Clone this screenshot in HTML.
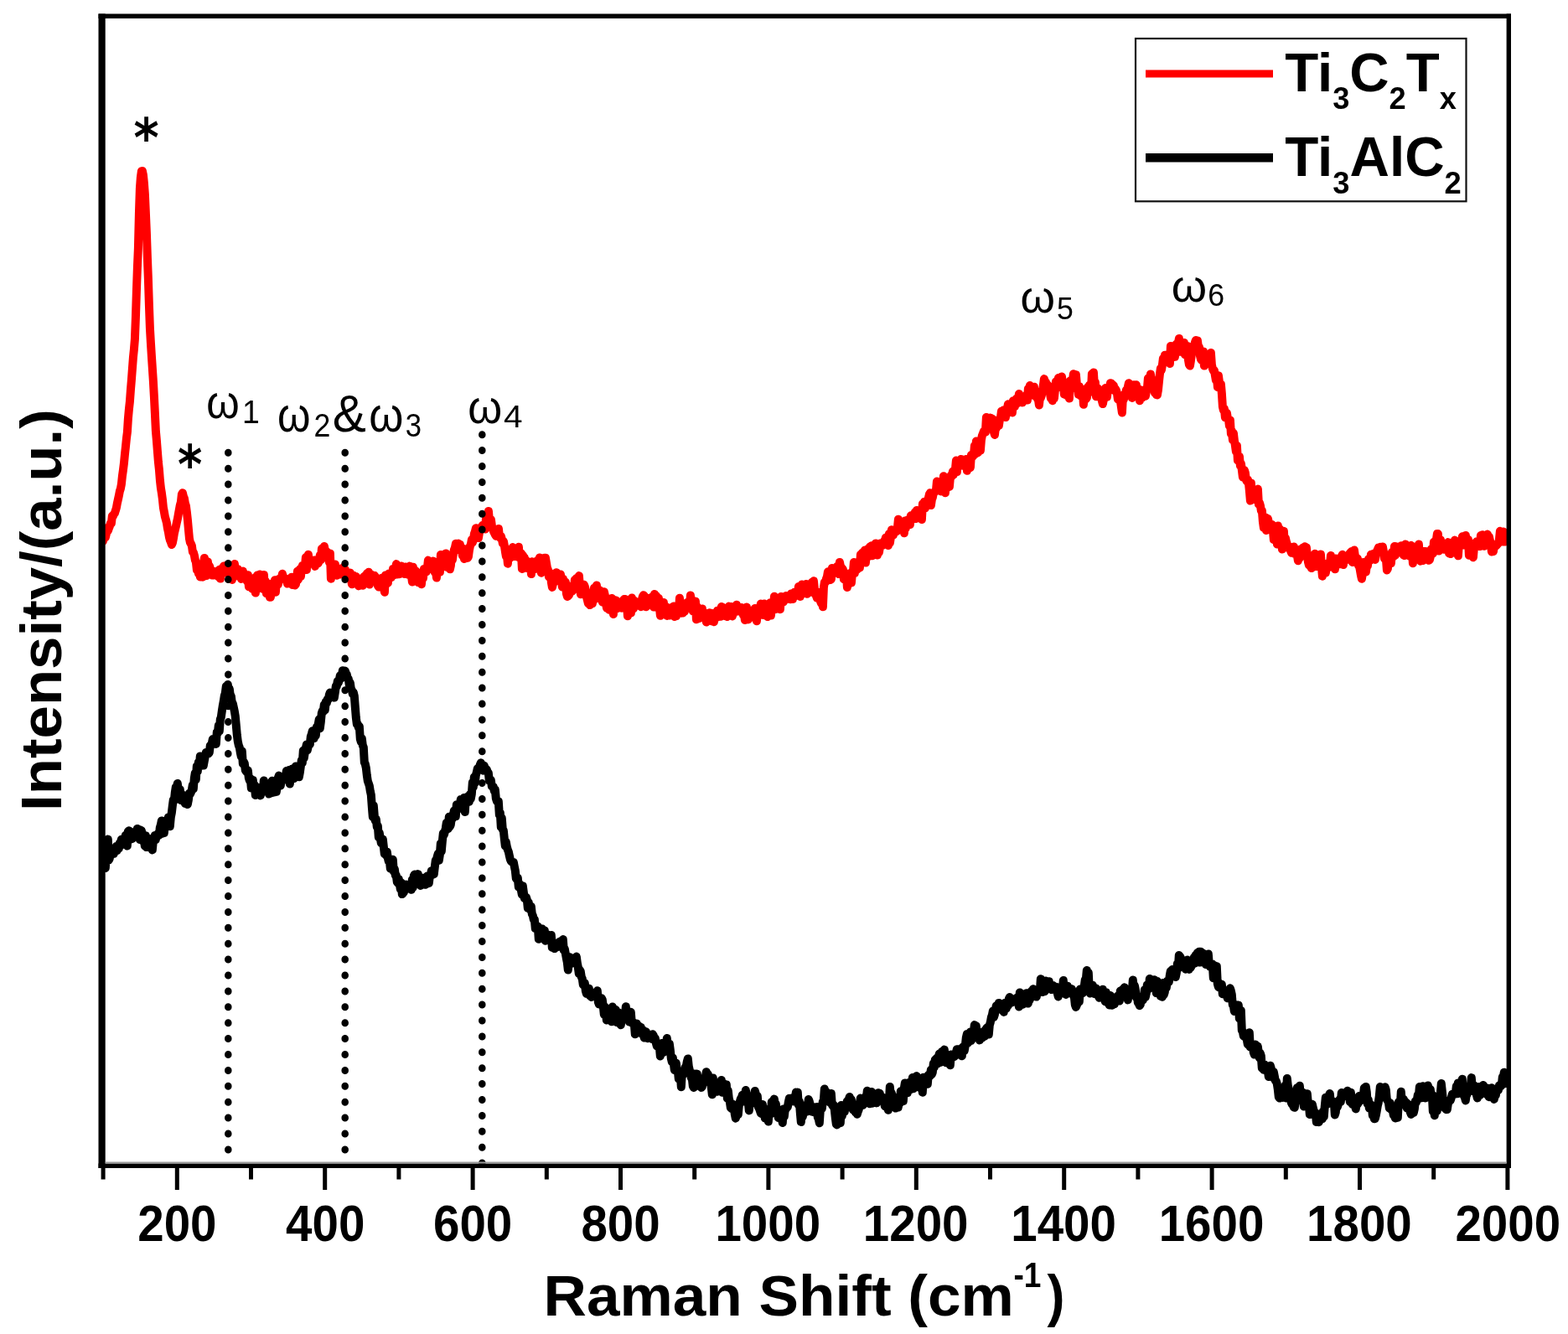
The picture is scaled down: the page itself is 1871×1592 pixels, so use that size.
<!DOCTYPE html><html><head><meta charset="utf-8"><title>Raman spectra</title><style>html,body{margin:0;padding:0;background:#fff;}svg{display:block;}</style></head><body>
<svg width="1871" height="1592" viewBox="0 0 1871 1592">
<rect width="1871" height="1592" fill="#fff"/>
<defs><clipPath id="pc"><rect x="122" y="20" width="1677" height="1368"/></clipPath></defs>
<g clip-path="url(#pc)" fill="none" stroke-linejoin="round" stroke-linecap="round">
<path d="M121.9 644.7L122.9 646.0L123.9 642.3L124.9 632.3L125.9 641.1L126.9 636.8L127.9 630.0L128.9 633.5L129.9 630.4L130.9 628.0L131.9 624.4L132.9 624.4L133.9 615.6L134.9 615.9L135.9 613.6L136.9 612.4L137.9 609.3L138.9 605.9L139.9 600.3L140.9 596.0L141.9 591.4L142.9 586.1L143.9 583.1L144.9 577.8L145.9 568.3L146.9 561.2L147.9 553.2L148.9 542.8L149.9 533.5L150.9 523.4L151.9 515.6L152.9 499.6L153.9 488.5L154.9 479.4L155.9 465.7L156.9 453.7L157.9 440.2L158.9 426.8L159.9 417.0L160.9 404.9L161.9 379.2L162.9 347.7L163.9 319.3L164.9 296.1L165.9 255.6L166.9 224.8L167.9 211.4L168.9 204.3L169.9 204.0L170.9 208.7L171.9 218.6L172.9 232.2L173.9 254.7L174.9 278.2L175.9 307.3L176.9 333.2L177.9 364.1L178.9 391.4L179.9 408.9L180.9 424.9L181.9 440.2L182.9 455.3L183.9 473.5L184.9 493.5L185.9 514.4L186.9 525.7L187.9 538.6L188.9 551.3L189.9 560.4L190.9 573.1L191.9 582.3L192.9 588.4L193.9 595.8L194.9 605.7L195.9 611.0L196.9 616.7L197.9 620.2L198.9 623.8L199.9 630.4L200.9 635.0L201.9 640.9L202.9 644.7L203.9 646.9L204.9 650.1L205.9 647.8L206.9 642.8L207.9 636.4L208.9 632.4L209.9 628.2L210.9 623.4L211.9 619.1L212.9 613.3L213.9 607.8L214.9 602.5L215.9 599.0L216.9 589.8L217.9 588.2L218.9 592.4L219.9 594.7L220.9 600.8L221.9 603.6L222.9 611.3L223.9 620.3L224.9 631.5L225.9 642.4L226.9 647.4L227.9 649.0L228.9 651.4L229.9 658.6L230.9 659.5L231.9 662.9L232.9 668.5L233.9 671.0L234.9 680.2L235.9 680.3L236.9 684.4L237.9 684.3L238.9 688.5L239.9 679.5L240.9 686.2L241.9 688.7L242.9 672.1L243.9 665.9L244.9 679.3L245.9 687.1L246.9 670.0L247.9 670.3L248.9 680.8L249.9 675.3L250.9 678.4L251.9 680.7L252.9 686.5L253.9 682.7L254.9 686.5L255.9 684.8L256.9 682.1L257.9 685.2L258.9 682.6L259.9 687.8L260.9 681.0L261.9 679.6L262.9 690.6L263.9 681.7L264.9 680.3L265.9 681.5L266.9 675.5L267.9 676.9L268.9 680.8L269.9 680.7L270.9 674.3L271.9 684.8L272.9 678.5L273.9 676.8L274.9 678.3L275.9 681.4L276.9 692.0L277.9 678.3L278.9 684.6L279.9 673.0L280.9 683.1L281.9 687.2L282.9 681.3L283.9 679.1L284.9 682.9L285.9 684.9L286.9 684.4L287.9 690.9L288.9 683.9L289.9 681.6L290.9 685.6L291.9 687.5L292.9 690.1L293.9 691.0L294.9 693.7L295.9 686.3L296.9 700.2L297.9 695.0L298.9 691.7L299.9 699.9L300.9 702.6L301.9 697.9L302.9 695.6L303.9 689.6L304.9 707.6L305.9 697.1L306.9 686.6L307.9 687.7L308.9 692.2L309.9 685.4L310.9 695.1L311.9 693.2L312.9 702.7L313.9 702.6L314.9 685.9L315.9 700.6L316.9 693.7L317.9 708.3L318.9 704.9L319.9 708.0L320.9 699.4L321.9 712.7L322.9 712.8L323.9 696.8L324.9 702.9L325.9 696.9L326.9 699.2L327.9 692.3L328.9 706.7L329.9 692.0L330.9 694.4L331.9 697.4L332.9 690.9L333.9 692.0L334.9 689.6L335.9 690.8L336.9 684.8L337.9 688.6L338.9 690.2L339.9 690.0L340.9 692.3L341.9 691.0L342.9 696.6L343.9 691.7L344.9 693.1L345.9 690.9L346.9 692.0L347.9 688.8L348.9 698.0L349.9 690.3L350.9 692.6L351.9 698.5L352.9 697.3L353.9 691.5L354.9 681.7L355.9 691.8L356.9 689.1L357.9 679.1L358.9 687.9L359.9 678.8L360.9 674.9L361.9 679.0L362.9 675.8L363.9 675.8L364.9 665.0L365.9 679.9L366.9 666.2L367.9 661.8L368.9 672.8L369.9 668.4L370.9 672.2L371.9 669.3L372.9 671.1L373.9 673.0L374.9 668.5L375.9 675.9L376.9 670.7L377.9 668.7L378.9 671.8L379.9 672.0L380.9 667.1L381.9 662.4L382.9 668.0L383.9 654.8L384.9 656.7L385.9 660.4L386.9 651.9L387.9 657.1L388.9 657.4L389.9 665.1L390.9 659.2L391.9 663.6L392.9 671.2L393.9 660.5L394.9 690.7L395.9 675.1L396.9 677.9L397.9 686.2L398.9 681.9L399.9 673.5L400.9 685.4L401.9 686.7L402.9 680.5L403.9 681.4L404.9 685.3L405.9 678.7L406.9 685.4L407.9 684.4L408.9 680.2L409.9 676.9L410.9 682.7L411.9 679.7L412.9 689.5L413.9 685.8L414.9 689.5L415.9 686.9L416.9 688.1L417.9 683.6L418.9 691.2L419.9 697.3L420.9 687.6L421.9 686.8L422.9 689.5L423.9 688.4L424.9 687.9L425.9 692.6L426.9 691.1L427.9 699.4L428.9 692.3L429.9 693.7L430.9 696.7L431.9 690.4L432.9 698.8L433.9 688.5L434.9 687.6L435.9 689.6L436.9 690.7L437.9 684.3L438.9 690.9L439.9 682.7L440.9 697.6L441.9 690.3L442.9 687.4L443.9 686.0L444.9 689.0L445.9 690.4L446.9 686.9L447.9 688.1L448.9 692.3L449.9 691.2L450.9 699.0L451.9 700.5L452.9 695.6L453.9 698.4L454.9 690.1L455.9 700.3L456.9 697.6L457.9 700.7L458.9 706.8L459.9 686.4L460.9 697.2L461.9 688.9L462.9 695.6L463.9 684.6L464.9 687.0L465.9 688.8L466.9 689.2L467.9 684.9L468.9 679.1L469.9 679.1L470.9 686.0L471.9 681.5L472.9 673.1L473.9 685.4L474.9 683.2L475.9 685.3L476.9 679.3L477.9 684.8L478.9 675.5L479.9 683.3L480.9 678.0L481.9 683.6L482.9 685.1L483.9 676.4L484.9 679.7L485.9 680.0L486.9 685.7L487.9 684.2L488.9 675.6L489.9 684.7L490.9 686.9L491.9 694.5L492.9 676.8L493.9 683.2L494.9 693.2L495.9 680.9L496.9 682.5L497.9 691.8L498.9 695.1L499.9 687.7L500.9 694.5L501.9 692.6L502.9 697.3L503.9 687.7L504.9 690.3L505.9 678.9L506.9 680.2L507.9 678.4L508.9 682.3L509.9 677.3L510.9 668.6L511.9 673.4L512.9 673.8L513.9 671.4L514.9 672.7L515.9 675.0L516.9 669.6L517.9 680.9L518.9 683.1L519.9 679.7L520.9 689.5L521.9 676.4L522.9 677.0L523.9 674.1L524.9 682.8L525.9 661.9L526.9 669.1L527.9 670.1L528.9 668.8L529.9 674.3L530.9 665.1L531.9 660.4L532.9 676.8L533.9 668.7L534.9 674.5L535.9 671.8L536.9 679.3L537.9 674.9L538.9 663.6L539.9 668.1L540.9 660.8L541.9 656.0L542.9 653.5L543.9 648.7L544.9 651.1L545.9 650.7L546.9 648.6L547.9 656.4L548.9 649.7L549.9 655.2L550.9 657.0L551.9 663.3L552.9 654.8L553.9 666.9L554.9 660.4L555.9 659.7L556.9 658.5L557.9 665.9L558.9 664.4L559.9 656.8L560.9 651.7L561.9 649.5L562.9 643.9L563.9 647.5L564.9 643.9L565.9 636.9L566.9 634.2L567.9 630.2L568.9 632.3L569.9 636.2L570.9 642.1L571.9 635.9L572.9 629.9L573.9 631.2L574.9 628.5L575.9 626.8L576.9 628.3L577.9 626.9L578.9 631.6L579.9 619.6L580.9 622.7L581.9 621.5L582.9 609.9L583.9 621.0L584.9 621.1L585.9 620.0L586.9 627.7L587.9 630.9L588.9 634.1L589.9 636.2L590.9 638.1L591.9 639.8L592.9 633.5L593.9 638.1L594.9 630.9L595.9 639.9L596.9 641.9L597.9 639.9L598.9 643.8L599.9 648.7L600.9 645.9L601.9 651.3L602.9 658.3L603.9 664.1L604.9 662.3L605.9 672.7L606.9 659.5L607.9 664.7L608.9 665.8L609.9 658.7L610.9 655.1L611.9 653.1L612.9 659.5L613.9 664.0L614.9 659.7L615.9 660.3L616.9 658.8L617.9 664.7L618.9 652.7L619.9 665.6L620.9 665.9L621.9 660.3L622.9 678.9L623.9 662.6L624.9 665.1L625.9 665.5L626.9 677.8L627.9 669.0L628.9 677.7L629.9 678.3L630.9 677.7L631.9 671.0L632.9 674.3L633.9 685.1L634.9 670.2L635.9 672.1L636.9 675.0L637.9 679.4L638.9 676.3L639.9 678.3L640.9 669.1L641.9 678.6L642.9 676.3L643.9 665.4L644.9 680.4L645.9 683.7L646.9 668.3L647.9 672.0L648.9 678.2L649.9 665.7L650.9 665.7L651.9 671.5L652.9 677.6L653.9 680.0L654.9 688.3L655.9 689.1L656.9 684.2L657.9 695.2L658.9 700.9L659.9 696.8L660.9 695.0L661.9 689.5L662.9 693.5L663.9 683.2L664.9 690.8L665.9 686.0L666.9 692.7L667.9 691.3L668.9 685.5L669.9 693.3L670.9 700.5L671.9 690.8L672.9 695.5L673.9 696.3L674.9 694.6L675.9 708.4L676.9 712.0L677.9 711.3L678.9 710.4L679.9 707.6L680.9 706.8L681.9 699.8L682.9 705.5L683.9 704.0L684.9 701.2L685.9 691.8L686.9 692.6L687.9 690.0L688.9 701.4L689.9 695.4L690.9 687.1L691.9 700.1L692.9 709.3L693.9 705.2L694.9 708.0L695.9 705.8L696.9 697.8L697.9 700.4L698.9 705.0L699.9 712.4L700.9 716.4L701.9 720.1L702.9 716.2L703.9 722.1L704.9 715.6L705.9 713.0L706.9 720.2L707.9 711.0L708.9 701.7L709.9 709.4L710.9 714.6L711.9 698.5L712.9 711.4L713.9 711.1L714.9 705.2L715.9 704.5L716.9 709.0L717.9 709.1L718.9 718.7L719.9 715.1L720.9 706.3L721.9 710.6L722.9 719.0L723.9 725.6L724.9 718.9L725.9 719.3L726.9 727.7L727.9 719.2L728.9 718.5L729.9 713.9L730.9 719.0L731.9 733.0L732.9 716.1L733.9 723.8L734.9 716.5L735.9 723.1L736.9 726.0L737.9 719.6L738.9 723.5L739.9 722.6L740.9 720.3L741.9 725.7L742.9 720.4L743.9 716.0L744.9 715.0L745.9 715.1L746.9 722.4L747.9 719.4L748.9 735.3L749.9 731.8L750.9 722.6L751.9 722.1L752.9 731.5L753.9 713.5L754.9 720.0L755.9 726.3L756.9 716.7L757.9 718.3L758.9 718.4L759.9 722.9L760.9 719.8L761.9 720.6L762.9 721.6L763.9 718.9L764.9 724.2L765.9 715.3L766.9 711.8L767.9 710.2L768.9 711.1L769.9 716.4L770.9 724.2L771.9 720.0L772.9 716.3L773.9 714.0L774.9 716.7L775.9 717.4L776.9 716.7L777.9 712.5L778.9 717.2L779.9 724.6L780.9 709.0L781.9 719.2L782.9 710.9L783.9 723.1L784.9 719.4L785.9 713.8L786.9 725.4L787.9 734.8L788.9 727.3L789.9 733.4L790.9 728.3L791.9 719.0L792.9 732.9L793.9 729.4L794.9 724.1L795.9 734.9L796.9 732.2L797.9 727.9L798.9 734.5L799.9 725.7L800.9 732.9L801.9 724.8L802.9 731.8L803.9 723.5L804.9 736.0L805.9 729.7L806.9 735.2L807.9 723.9L808.9 725.3L809.9 731.5L810.9 713.7L811.9 721.6L812.9 731.7L813.9 728.9L814.9 731.5L815.9 725.3L816.9 729.7L817.9 723.5L818.9 720.4L819.9 719.0L820.9 724.7L821.9 724.8L822.9 724.6L823.9 710.4L824.9 718.1L825.9 725.4L826.9 729.5L827.9 725.4L828.9 724.2L829.9 717.6L830.9 739.2L831.9 724.3L832.9 738.4L833.9 738.2L834.9 732.3L835.9 728.5L836.9 732.4L837.9 726.5L838.9 733.8L839.9 732.9L840.9 735.9L841.9 738.4L842.9 742.6L843.9 732.6L844.9 740.0L845.9 731.4L846.9 731.3L847.9 733.1L848.9 731.7L849.9 741.5L850.9 740.8L851.9 742.2L852.9 735.4L853.9 736.5L854.9 732.0L855.9 728.8L856.9 736.3L857.9 735.0L858.9 727.9L859.9 735.8L860.9 724.0L861.9 731.3L862.9 728.7L863.9 728.9L864.9 725.8L865.9 735.4L866.9 733.1L867.9 736.1L868.9 730.8L869.9 723.6L870.9 728.0L871.9 723.9L872.9 731.8L873.9 735.4L874.9 730.9L875.9 726.3L876.9 727.3L877.9 730.0L878.9 721.7L879.9 729.4L880.9 729.6L881.9 725.8L882.9 726.3L883.9 729.1L884.9 725.0L885.9 725.7L886.9 734.2L887.9 732.2L888.9 740.1L889.9 727.7L890.9 724.5L891.9 738.6L892.9 739.4L893.9 731.8L894.9 728.9L895.9 736.6L896.9 728.9L897.9 736.6L898.9 728.0L899.9 736.4L900.9 725.9L901.9 733.9L902.9 741.3L903.9 731.4L904.9 735.2L905.9 727.1L906.9 724.7L907.9 720.5L908.9 731.7L909.9 725.7L910.9 734.1L911.9 720.6L912.9 725.5L913.9 727.2L914.9 733.9L915.9 736.1L916.9 724.2L917.9 722.0L918.9 719.3L919.9 734.6L920.9 726.9L921.9 723.2L922.9 725.1L923.9 711.8L924.9 714.8L925.9 726.9L926.9 723.2L927.9 721.0L928.9 714.4L929.9 721.8L930.9 727.2L931.9 712.0L932.9 717.7L933.9 715.0L934.9 718.5L935.9 716.3L936.9 715.1L937.9 711.0L938.9 714.8L939.9 711.5L940.9 713.0L941.9 712.6L942.9 715.3L943.9 708.5L944.9 708.9L945.9 715.0L946.9 707.8L947.9 706.8L948.9 711.5L949.9 708.0L950.9 706.9L951.9 707.3L952.9 699.9L953.9 708.0L954.9 712.0L955.9 708.1L956.9 697.4L957.9 706.2L958.9 699.9L959.9 702.7L960.9 703.9L961.9 696.9L962.9 708.8L963.9 701.4L964.9 705.1L965.9 703.8L966.9 706.7L967.9 706.8L968.9 694.7L969.9 703.0L970.9 693.3L971.9 702.5L972.9 709.1L973.9 711.0L974.9 713.8L975.9 706.6L976.9 710.9L977.9 710.8L978.9 717.4L979.9 720.0L980.9 708.6L981.9 724.2L982.9 701.0L983.9 694.6L984.9 694.7L985.9 690.9L986.9 688.3L987.9 682.2L988.9 692.3L989.9 685.1L990.9 692.1L991.9 691.2L992.9 677.9L993.9 679.1L994.9 678.2L995.9 683.5L996.9 681.7L997.9 682.0L998.9 675.9L999.9 681.1L1000.9 685.1L1001.9 670.9L1002.9 675.6L1003.9 678.1L1004.9 678.1L1005.9 679.7L1006.9 691.2L1007.9 690.7L1008.9 690.5L1009.9 684.4L1010.9 701.0L1011.9 691.6L1012.9 685.8L1013.9 685.8L1014.9 683.9L1015.9 695.5L1016.9 684.9L1017.9 683.0L1018.9 671.0L1019.9 684.0L1020.9 674.0L1021.9 672.4L1022.9 679.5L1023.9 670.7L1024.9 677.5L1025.9 677.4L1026.9 661.7L1027.9 668.3L1028.9 659.7L1029.9 665.6L1030.9 668.9L1031.9 656.6L1032.9 671.5L1033.9 660.5L1034.9 655.5L1035.9 660.0L1036.9 663.9L1037.9 652.6L1038.9 658.7L1039.9 651.3L1040.9 663.2L1041.9 657.4L1042.9 653.9L1043.9 660.4L1044.9 648.4L1045.9 652.1L1046.9 662.6L1047.9 652.5L1048.9 659.3L1049.9 653.1L1050.9 648.2L1051.9 650.0L1052.9 651.1L1053.9 648.3L1054.9 645.8L1055.9 645.5L1056.9 641.6L1057.9 649.0L1058.9 649.9L1059.9 651.1L1060.9 637.1L1061.9 647.6L1062.9 641.3L1063.9 632.2L1064.9 637.4L1065.9 638.6L1066.9 634.9L1067.9 633.7L1068.9 634.5L1069.9 634.3L1070.9 629.7L1071.9 619.7L1072.9 626.2L1073.9 631.6L1074.9 627.5L1075.9 632.4L1076.9 632.3L1077.9 627.9L1078.9 636.2L1079.9 621.5L1080.9 630.2L1081.9 622.6L1082.9 620.4L1083.9 626.4L1084.9 619.8L1085.9 626.1L1086.9 615.3L1087.9 620.3L1088.9 615.2L1089.9 617.3L1090.9 615.7L1091.9 611.2L1092.9 619.0L1093.9 608.9L1094.9 609.3L1095.9 617.6L1096.9 617.1L1097.9 614.8L1098.9 612.2L1099.9 620.0L1100.9 601.2L1101.9 601.8L1102.9 598.8L1103.9 606.4L1104.9 601.7L1105.9 604.0L1106.9 601.6L1107.9 594.1L1108.9 589.9L1109.9 588.2L1110.9 603.1L1111.9 596.1L1112.9 593.4L1113.9 588.0L1114.9 587.9L1115.9 586.3L1116.9 585.6L1117.9 574.6L1118.9 585.2L1119.9 582.8L1120.9 585.3L1121.9 584.1L1122.9 586.5L1123.9 581.7L1124.9 585.2L1125.9 568.2L1126.9 574.9L1127.9 588.2L1128.9 573.3L1129.9 577.4L1130.9 581.7L1131.9 573.5L1132.9 580.8L1133.9 569.8L1134.9 566.9L1135.9 568.2L1136.9 562.6L1137.9 566.6L1138.9 561.1L1139.9 560.3L1140.9 549.6L1141.9 563.1L1142.9 549.9L1143.9 550.3L1144.9 552.9L1145.9 549.6L1146.9 547.9L1147.9 551.5L1148.9 555.7L1149.9 554.7L1150.9 556.2L1151.9 548.9L1152.9 548.0L1153.9 561.8L1154.9 551.0L1155.9 554.6L1156.9 556.0L1157.9 558.0L1158.9 543.0L1159.9 545.7L1160.9 544.4L1161.9 543.6L1162.9 531.7L1163.9 541.6L1164.9 526.4L1165.9 540.5L1166.9 540.2L1167.9 538.9L1168.9 528.6L1169.9 537.5L1170.9 525.0L1171.9 519.8L1172.9 517.4L1173.9 514.6L1174.9 516.1L1175.9 515.7L1176.9 497.9L1177.9 502.0L1178.9 508.1L1179.9 505.5L1180.9 507.7L1181.9 498.6L1182.9 511.4L1183.9 499.8L1184.9 509.1L1185.9 515.6L1186.9 518.9L1187.9 510.7L1188.9 511.0L1189.9 502.2L1190.9 501.3L1191.9 507.9L1192.9 500.7L1193.9 498.6L1194.9 490.8L1195.9 496.9L1196.9 497.9L1197.9 489.3L1198.9 489.2L1199.9 498.1L1200.9 490.4L1201.9 487.2L1202.9 482.3L1203.9 484.0L1204.9 484.9L1205.9 492.0L1206.9 481.5L1207.9 492.4L1208.9 478.3L1209.9 480.2L1210.9 485.3L1211.9 479.1L1212.9 475.6L1213.9 478.6L1214.9 481.0L1215.9 470.0L1216.9 476.8L1217.9 477.1L1218.9 475.2L1219.9 480.4L1220.9 473.6L1221.9 474.2L1222.9 475.8L1223.9 477.7L1224.9 471.0L1225.9 477.6L1226.9 463.7L1227.9 472.5L1228.9 460.0L1229.9 461.4L1230.9 462.0L1231.9 468.7L1232.9 465.6L1233.9 461.7L1234.9 472.6L1235.9 467.7L1236.9 467.4L1237.9 476.0L1238.9 476.7L1239.9 483.5L1240.9 474.5L1241.9 474.7L1242.9 471.6L1243.9 465.5L1244.9 459.7L1245.9 452.1L1246.9 457.0L1247.9 456.0L1248.9 460.4L1249.9 459.0L1250.9 463.5L1251.9 461.1L1252.9 469.4L1253.9 475.4L1254.9 474.9L1255.9 478.2L1256.9 472.9L1257.9 475.4L1258.9 465.2L1259.9 455.5L1260.9 463.1L1261.9 457.5L1262.9 451.0L1263.9 456.3L1264.9 451.9L1265.9 450.1L1266.9 449.4L1267.9 455.6L1268.9 459.6L1269.9 470.7L1270.9 462.3L1271.9 469.3L1272.9 472.1L1273.9 460.1L1274.9 458.9L1275.9 475.5L1276.9 454.5L1277.9 464.1L1278.9 455.4L1279.9 454.0L1280.9 446.2L1281.9 449.7L1282.9 456.2L1283.9 447.1L1284.9 459.2L1285.9 460.2L1286.9 471.0L1287.9 461.2L1288.9 472.1L1289.9 472.6L1290.9 469.3L1291.9 464.9L1292.9 482.8L1293.9 470.6L1294.9 472.2L1295.9 476.1L1296.9 474.5L1297.9 462.1L1298.9 463.3L1299.9 459.5L1300.9 463.8L1301.9 467.5L1302.9 446.1L1303.9 461.3L1304.9 444.4L1305.9 460.2L1306.9 456.4L1307.9 473.2L1308.9 465.9L1309.9 463.2L1310.9 466.0L1311.9 467.3L1312.9 472.7L1313.9 472.7L1314.9 478.4L1315.9 482.1L1316.9 476.8L1317.9 466.2L1318.9 463.1L1319.9 466.2L1320.9 473.9L1321.9 466.0L1322.9 463.2L1323.9 465.9L1324.9 457.2L1325.9 457.4L1326.9 464.3L1327.9 459.1L1328.9 460.3L1329.9 466.2L1330.9 464.0L1331.9 465.7L1332.9 469.1L1333.9 476.5L1334.9 476.0L1335.9 472.1L1336.9 478.6L1337.9 485.5L1338.9 492.5L1339.9 473.7L1340.9 476.9L1341.9 470.0L1342.9 471.3L1343.9 465.4L1344.9 466.4L1345.9 461.6L1346.9 457.2L1347.9 458.1L1348.9 463.6L1349.9 464.3L1350.9 475.0L1351.9 472.3L1352.9 459.2L1353.9 467.5L1354.9 460.1L1355.9 459.3L1356.9 471.9L1357.9 471.8L1358.9 464.5L1359.9 478.2L1360.9 465.8L1361.9 465.4L1362.9 474.8L1363.9 473.2L1364.9 471.9L1365.9 472.8L1366.9 472.7L1367.9 467.3L1368.9 463.5L1369.9 451.5L1370.9 450.6L1371.9 456.5L1372.9 446.4L1373.9 454.3L1374.9 459.5L1375.9 453.4L1376.9 458.3L1377.9 468.8L1378.9 463.8L1379.9 471.2L1380.9 471.4L1381.9 465.7L1382.9 455.7L1383.9 446.5L1384.9 439.5L1385.9 441.7L1386.9 435.9L1387.9 427.6L1388.9 431.7L1389.9 423.8L1390.9 431.3L1391.9 425.3L1392.9 424.1L1393.9 423.4L1394.9 422.1L1395.9 433.9L1396.9 413.0L1397.9 420.9L1398.9 425.3L1399.9 421.9L1400.9 416.2L1401.9 425.9L1402.9 411.8L1403.9 410.3L1404.9 419.2L1405.9 408.9L1406.9 404.0L1407.9 419.7L1408.9 418.8L1409.9 418.3L1410.9 412.0L1411.9 414.9L1412.9 409.0L1413.9 423.1L1414.9 421.1L1415.9 423.5L1416.9 413.0L1417.9 429.2L1418.9 435.2L1419.9 436.6L1420.9 430.6L1421.9 422.9L1422.9 417.4L1423.9 418.2L1424.9 413.3L1425.9 408.7L1426.9 405.9L1427.9 418.0L1428.9 406.4L1429.9 414.4L1430.9 414.0L1431.9 424.3L1432.9 428.6L1433.9 430.0L1434.9 430.0L1435.9 419.4L1436.9 436.5L1437.9 428.8L1438.9 425.8L1439.9 426.4L1440.9 424.6L1441.9 429.6L1442.9 431.0L1443.9 429.8L1444.9 421.0L1445.9 435.4L1446.9 439.9L1447.9 442.4L1448.9 442.0L1449.9 448.0L1450.9 453.8L1451.9 449.5L1452.9 462.0L1453.9 448.2L1454.9 455.7L1455.9 461.8L1456.9 458.6L1457.9 470.0L1458.9 485.4L1459.9 489.7L1460.9 487.7L1461.9 498.3L1462.9 493.7L1463.9 492.8L1464.9 499.1L1465.9 500.1L1466.9 508.4L1467.9 501.5L1468.9 517.8L1469.9 514.6L1470.9 525.1L1471.9 517.1L1472.9 525.9L1473.9 531.7L1474.9 539.0L1475.9 531.9L1476.9 549.4L1477.9 546.7L1478.9 544.5L1479.9 555.8L1480.9 553.1L1481.9 561.0L1482.9 569.5L1483.9 564.7L1484.9 561.1L1485.9 564.5L1486.9 572.7L1487.9 574.5L1488.9 572.3L1489.9 576.3L1490.9 586.1L1491.9 597.6L1492.9 576.5L1493.9 594.7L1494.9 590.3L1495.9 595.4L1496.9 596.1L1497.9 592.3L1498.9 587.3L1499.9 585.7L1500.9 583.6L1501.9 601.9L1502.9 599.9L1503.9 603.3L1504.9 609.7L1505.9 609.5L1506.9 622.6L1507.9 629.8L1508.9 629.9L1509.9 617.6L1510.9 633.0L1511.9 623.6L1512.9 618.9L1513.9 623.3L1514.9 625.6L1515.9 631.3L1516.9 627.2L1517.9 625.9L1518.9 633.0L1519.9 644.2L1520.9 631.8L1521.9 637.9L1522.9 636.4L1523.9 649.4L1524.9 627.5L1525.9 642.5L1526.9 631.3L1527.9 635.1L1528.9 637.9L1529.9 655.4L1530.9 637.7L1531.9 633.8L1532.9 651.0L1533.9 642.1L1534.9 646.6L1535.9 649.3L1536.9 651.5L1537.9 651.8L1538.9 655.5L1539.9 656.8L1540.9 659.7L1541.9 654.1L1542.9 653.2L1543.9 652.4L1544.9 661.2L1545.9 658.7L1546.9 662.3L1547.9 662.9L1548.9 669.2L1549.9 662.7L1550.9 665.8L1551.9 655.5L1552.9 655.4L1553.9 658.5L1554.9 653.4L1555.9 662.1L1556.9 652.3L1557.9 662.6L1558.9 653.5L1559.9 663.5L1560.9 670.6L1561.9 674.4L1562.9 668.6L1563.9 675.9L1564.9 678.1L1565.9 674.5L1566.9 666.1L1567.9 664.4L1568.9 660.8L1569.9 670.8L1570.9 676.0L1571.9 667.5L1572.9 662.9L1573.9 673.4L1574.9 677.0L1575.9 661.4L1576.9 676.6L1577.9 687.7L1578.9 682.3L1579.9 682.1L1580.9 681.5L1581.9 683.7L1582.9 672.9L1583.9 672.4L1584.9 677.5L1585.9 671.1L1586.9 674.8L1587.9 663.1L1588.9 675.2L1589.9 674.7L1590.9 670.6L1591.9 671.7L1592.9 679.3L1593.9 666.6L1594.9 667.9L1595.9 667.5L1596.9 671.3L1597.9 668.9L1598.9 673.3L1599.9 668.7L1600.9 663.5L1601.9 661.8L1602.9 674.0L1603.9 666.5L1604.9 664.5L1605.9 664.5L1606.9 663.7L1607.9 667.8L1608.9 666.9L1609.9 661.2L1610.9 660.1L1611.9 658.8L1612.9 658.0L1613.9 671.0L1614.9 660.7L1615.9 656.4L1616.9 663.4L1617.9 664.8L1618.9 671.4L1619.9 666.7L1620.9 674.8L1621.9 675.2L1622.9 680.7L1623.9 686.3L1624.9 690.8L1625.9 684.6L1626.9 670.9L1627.9 673.2L1628.9 675.0L1629.9 682.5L1630.9 674.3L1631.9 675.5L1632.9 667.3L1633.9 669.7L1634.9 668.9L1635.9 661.8L1636.9 667.0L1637.9 667.6L1638.9 660.7L1639.9 665.6L1640.9 667.9L1641.9 659.3L1642.9 658.1L1643.9 655.8L1644.9 653.4L1645.9 656.4L1646.9 652.8L1647.9 653.4L1648.9 653.7L1649.9 652.4L1650.9 657.9L1651.9 666.6L1652.9 661.7L1653.9 666.8L1654.9 680.5L1655.9 678.6L1656.9 667.4L1657.9 671.5L1658.9 663.2L1659.9 672.1L1660.9 659.0L1661.9 660.0L1662.9 664.1L1663.9 652.1L1664.9 662.6L1665.9 652.2L1666.9 657.4L1667.9 654.8L1668.9 655.8L1669.9 657.0L1670.9 655.8L1671.9 651.2L1672.9 660.4L1673.9 659.7L1674.9 662.5L1675.9 663.0L1676.9 649.6L1677.9 662.5L1678.9 662.6L1679.9 653.6L1680.9 661.3L1681.9 663.7L1682.9 654.4L1683.9 650.8L1684.9 656.3L1685.9 672.2L1686.9 660.2L1687.9 653.6L1688.9 658.8L1689.9 655.7L1690.9 659.1L1691.9 662.1L1692.9 649.5L1693.9 664.2L1694.9 669.7L1695.9 662.2L1696.9 661.6L1697.9 669.1L1698.9 657.9L1699.9 658.3L1700.9 657.9L1701.9 664.3L1702.9 667.3L1703.9 665.3L1704.9 668.8L1705.9 668.0L1706.9 664.0L1707.9 655.2L1708.9 655.5L1709.9 660.5L1710.9 646.8L1711.9 648.3L1712.9 645.1L1713.9 643.9L1714.9 637.1L1715.9 637.1L1716.9 657.5L1717.9 650.9L1718.9 644.1L1719.9 648.6L1720.9 653.5L1721.9 649.7L1722.9 655.7L1723.9 651.0L1724.9 653.5L1725.9 656.2L1726.9 655.6L1727.9 647.1L1728.9 660.2L1729.9 660.7L1730.9 661.1L1731.9 653.2L1732.9 659.1L1733.9 657.8L1734.9 647.4L1735.9 644.6L1736.9 657.1L1737.9 649.4L1738.9 658.3L1739.9 663.3L1740.9 649.0L1741.9 647.0L1742.9 648.8L1743.9 650.6L1744.9 640.3L1745.9 650.4L1746.9 647.7L1747.9 644.5L1748.9 638.9L1749.9 648.8L1750.9 651.2L1751.9 643.9L1752.9 662.8L1753.9 653.8L1754.9 659.9L1755.9 658.3L1756.9 663.2L1757.9 665.3L1758.9 653.9L1759.9 648.1L1760.9 652.2L1761.9 646.3L1762.9 647.3L1763.9 648.6L1764.9 647.2L1765.9 652.1L1766.9 639.1L1767.9 644.1L1768.9 638.2L1769.9 645.6L1770.9 651.8L1771.9 642.4L1772.9 650.6L1773.9 641.3L1774.9 637.6L1775.9 640.7L1776.9 640.7L1777.9 645.2L1778.9 650.2L1779.9 658.5L1780.9 657.8L1781.9 658.2L1782.9 652.8L1783.9 649.7L1784.9 651.7L1785.9 650.6L1786.9 649.5L1787.9 648.4L1788.9 644.3L1789.9 633.8L1790.9 636.1L1791.9 635.8L1792.9 646.5L1793.9 634.5L1794.9 641.1L1795.9 646.5L1796.9 642.5L1797.9 640.5" stroke="#ff0000" stroke-width="10"/>
<path d="M125.8 1035.9L126.8 1020.4L127.8 1008.6L128.8 1001.6L129.8 1026.4L130.8 1024.4L131.8 1016.6L132.8 1020.5L133.8 1017.2L134.8 1012.4L135.8 1018.9L136.8 1012.8L137.8 1012.3L138.8 1009.9L139.8 1015.1L140.8 1011.2L141.8 1012.7L142.8 1006.0L143.8 1007.8L144.8 1001.8L145.8 1008.1L146.8 1003.8L147.8 1003.9L148.8 1003.7L149.8 996.8L150.8 1004.3L151.8 1009.5L152.8 992.4L153.8 991.4L154.8 991.7L155.8 1001.5L156.8 997.4L157.8 1000.9L158.8 998.4L159.8 995.3L160.8 995.3L161.8 993.2L162.8 997.9L163.8 988.9L164.8 992.1L165.8 995.1L166.8 1002.1L167.8 990.6L168.8 991.1L169.8 995.3L170.8 1004.2L171.8 1000.7L172.8 1009.6L173.8 997.2L174.8 1011.1L175.8 1011.0L176.8 1000.4L177.8 1007.5L178.8 1011.5L179.8 1005.7L180.8 1009.0L181.8 1014.4L182.8 1004.2L183.8 1000.4L184.8 996.9L185.8 1002.0L186.8 996.9L187.8 995.6L188.8 994.6L189.8 996.7L190.8 987.8L191.8 984.6L192.8 979.5L193.8 994.8L194.8 988.6L195.8 994.0L196.8 986.1L197.8 981.8L198.8 985.9L199.8 982.0L200.8 975.4L201.8 975.7L202.8 986.2L203.8 975.3L204.8 970.3L205.8 961.8L206.8 954.4L207.8 955.8L208.8 945.7L209.8 939.3L210.8 939.1L211.8 934.9L212.8 942.2L213.8 948.8L214.8 942.3L215.8 954.9L216.8 947.8L217.8 953.9L218.8 951.8L219.8 956.1L220.8 958.9L221.8 958.2L222.8 958.5L223.8 960.1L224.8 955.1L225.8 946.8L226.8 947.7L227.8 945.7L228.8 943.0L229.8 936.8L230.8 941.3L231.8 928.9L232.8 922.6L233.8 930.3L234.8 914.3L235.8 920.6L236.8 909.6L237.8 914.2L238.8 902.4L239.8 913.9L240.8 907.9L241.8 902.9L242.8 913.5L243.8 908.0L244.8 903.1L245.8 897.9L246.8 899.3L247.8 897.1L248.8 899.4L249.8 898.0L250.8 889.8L251.8 888.8L252.8 887.3L253.8 882.1L254.8 884.0L255.8 884.7L256.8 886.7L257.8 887.9L258.8 873.6L259.8 875.0L260.8 865.7L261.8 872.3L262.8 858.6L263.8 855.9L264.8 848.7L265.8 842.2L266.8 837.0L267.8 830.3L268.8 827.2L269.8 819.0L270.8 822.2L271.8 817.0L272.8 824.7L273.8 822.0L274.8 830.3L275.8 830.7L276.8 838.9L277.8 839.5L278.8 844.0L279.8 848.8L280.8 854.9L281.8 865.8L282.8 877.0L283.8 884.8L284.8 889.6L285.8 891.9L286.8 898.3L287.8 903.1L288.8 896.5L289.8 911.5L290.8 909.1L291.8 911.0L292.8 919.1L293.8 920.8L294.8 921.8L295.8 919.3L296.8 928.3L297.8 931.4L298.8 928.9L299.8 940.6L300.8 940.7L301.8 930.9L302.8 941.7L303.8 936.8L304.8 949.0L305.8 948.5L306.8 939.5L307.8 940.0L308.8 944.0L309.8 942.0L310.8 949.4L311.8 945.4L312.8 940.4L313.8 943.7L314.8 931.5L315.8 941.5L316.8 943.5L317.8 938.3L318.8 935.4L319.8 941.0L320.8 947.6L321.8 940.0L322.8 934.4L323.8 946.3L324.8 931.7L325.8 942.7L326.8 938.2L327.8 945.4L328.8 936.6L329.8 944.9L330.8 938.8L331.8 928.2L332.8 925.6L333.8 931.6L334.8 937.5L335.8 931.2L336.8 929.9L337.8 927.5L338.8 930.8L339.8 928.2L340.8 926.7L341.8 920.0L342.8 929.8L343.8 930.8L344.8 919.1L345.8 935.5L346.8 928.7L347.8 923.5L348.8 917.4L349.8 929.2L350.8 929.0L351.8 921.8L352.8 914.4L353.8 925.5L354.8 915.8L355.8 914.3L356.8 927.2L357.8 922.0L358.8 914.9L359.8 907.1L360.8 910.5L361.8 895.8L362.8 904.6L363.8 897.9L364.8 892.8L365.8 888.6L366.8 895.3L367.8 890.6L368.8 888.1L369.8 888.4L370.8 879.1L371.8 876.1L372.8 872.3L373.8 877.5L374.8 881.1L375.8 875.7L376.8 877.9L377.8 868.1L378.8 868.1L379.8 863.6L380.8 858.3L381.8 869.2L382.8 861.5L383.8 851.1L384.8 848.1L385.8 849.2L386.8 840.9L387.8 847.2L388.8 837.3L389.8 839.3L390.8 834.3L391.8 834.7L392.8 829.3L393.8 826.6L394.8 827.8L395.8 827.5L396.8 827.7L397.8 827.7L398.8 832.6L399.8 826.5L400.8 818.9L401.8 818.9L402.8 812.8L403.8 814.8L404.8 811.4L405.8 806.1L406.8 809.9L407.8 809.0L408.8 800.2L409.8 803.5L410.8 803.1L411.8 800.6L412.8 803.6L413.8 805.0L414.8 809.4L415.8 810.1L416.8 817.8L417.8 814.8L418.8 822.0L419.8 823.6L420.8 828.2L421.8 826.3L422.8 830.6L423.8 843.5L424.8 856.1L425.8 864.2L426.8 864.3L427.8 868.3L428.8 866.7L429.8 881.8L430.8 885.4L431.8 881.4L432.8 889.5L433.8 891.9L434.8 909.8L435.8 911.8L436.8 916.3L437.8 925.3L438.8 932.1L439.8 934.9L440.8 937.8L441.8 944.2L442.8 948.6L443.8 962.7L444.8 974.9L445.8 961.5L446.8 974.0L447.8 979.5L448.8 977.4L449.8 987.0L450.8 985.4L451.8 999.1L452.8 994.2L453.8 1000.5L454.8 1006.2L455.8 1004.4L456.8 1001.4L457.8 1010.2L458.8 1019.1L459.8 1017.9L460.8 1020.9L461.8 1016.7L462.8 1023.8L463.8 1028.1L464.8 1026.6L465.8 1036.7L466.8 1028.8L467.8 1026.7L468.8 1025.8L469.8 1039.9L470.8 1036.9L471.8 1044.5L472.8 1044.7L473.8 1052.7L474.8 1053.8L475.8 1049.1L476.8 1054.8L477.8 1061.1L478.8 1053.4L479.8 1067.1L480.8 1066.1L481.8 1065.0L482.8 1059.7L483.8 1062.0L484.8 1055.6L485.8 1060.8L486.8 1057.1L487.8 1059.3L488.8 1055.9L489.8 1058.6L490.8 1061.8L491.8 1049.8L492.8 1059.0L493.8 1045.1L494.8 1043.5L495.8 1051.9L496.8 1051.6L497.8 1052.8L498.8 1043.1L499.8 1050.5L500.8 1051.6L501.8 1056.9L502.8 1051.1L503.8 1054.2L504.8 1047.7L505.8 1051.5L506.8 1050.6L507.8 1055.8L508.8 1046.5L509.8 1045.5L510.8 1050.2L511.8 1054.0L512.8 1045.9L513.8 1043.9L514.8 1039.3L515.8 1044.1L516.8 1039.9L517.8 1043.2L518.8 1034.7L519.8 1026.7L520.8 1026.2L521.8 1022.0L522.8 1018.6L523.8 1026.8L524.8 1020.3L525.8 1006.6L526.8 1015.7L527.8 1004.3L528.8 994.4L529.8 996.3L530.8 992.9L531.8 988.3L532.8 981.7L533.8 989.2L534.8 989.0L535.8 974.7L536.8 986.5L537.8 984.2L538.8 976.8L539.8 976.9L540.8 972.6L541.8 967.5L542.8 967.9L543.8 974.3L544.8 960.3L545.8 966.6L546.8 965.0L547.8 959.7L548.8 959.6L549.8 953.9L550.8 955.1L551.8 957.7L552.8 958.3L553.8 951.9L554.8 968.9L555.8 951.7L556.8 954.0L557.8 951.6L558.8 950.0L559.8 956.8L560.8 948.0L561.8 953.0L562.8 947.9L563.8 933.9L564.8 939.1L565.8 927.4L566.8 934.3L567.8 925.1L568.8 921.6L569.8 917.2L570.8 916.4L571.8 915.9L572.8 912.7L573.8 910.3L574.8 912.7L575.8 914.9L576.8 919.7L577.8 913.7L578.8 917.4L579.8 917.6L580.8 918.4L581.8 921.3L582.8 922.3L583.8 931.9L584.8 930.1L585.8 930.8L586.8 938.3L587.8 939.0L588.8 939.1L589.8 944.1L590.8 942.2L591.8 952.7L592.8 955.9L593.8 955.9L594.8 956.2L595.8 972.4L596.8 969.9L597.8 987.1L598.8 976.6L599.8 990.1L600.8 991.0L601.8 1000.7L602.8 1009.6L603.8 1004.8L604.8 1010.4L605.8 1014.1L606.8 1016.4L607.8 1021.1L608.8 1025.5L609.8 1027.8L610.8 1028.6L611.8 1029.1L612.8 1028.9L613.8 1034.1L614.8 1039.1L615.8 1048.6L616.8 1047.9L617.8 1047.7L618.8 1058.6L619.8 1054.6L620.8 1057.2L621.8 1062.1L622.8 1067.7L623.8 1057.2L624.8 1064.7L625.8 1072.1L626.8 1071.3L627.8 1070.6L628.8 1073.6L629.8 1083.8L630.8 1077.1L631.8 1084.0L632.8 1085.9L633.8 1081.9L634.8 1090.8L635.8 1092.6L636.8 1097.4L637.8 1097.1L638.8 1108.2L639.8 1104.6L640.8 1106.0L641.8 1105.5L642.8 1120.8L643.8 1118.1L644.8 1114.9L645.8 1112.3L646.8 1108.4L647.8 1116.5L648.8 1117.2L649.8 1110.4L650.8 1122.8L651.8 1121.8L652.8 1114.9L653.8 1117.5L654.8 1118.9L655.8 1122.4L656.8 1121.9L657.8 1116.0L658.8 1130.8L659.8 1126.4L660.8 1131.5L661.8 1132.1L662.8 1125.6L663.8 1128.0L664.8 1129.8L665.8 1130.0L666.8 1125.8L667.8 1123.7L668.8 1126.7L669.8 1122.9L670.8 1124.3L671.8 1121.1L672.8 1134.0L673.8 1132.3L674.8 1137.8L675.8 1143.5L676.8 1148.5L677.8 1157.5L678.8 1149.7L679.8 1142.2L680.8 1148.9L681.8 1145.4L682.8 1149.6L683.8 1144.5L684.8 1144.1L685.8 1144.8L686.8 1144.8L687.8 1141.6L688.8 1149.1L689.8 1154.3L690.8 1162.0L691.8 1157.5L692.8 1159.4L693.8 1166.0L694.8 1168.0L695.8 1175.2L696.8 1173.4L697.8 1173.4L698.8 1182.3L699.8 1185.8L700.8 1179.6L701.8 1185.2L702.8 1179.6L703.8 1188.3L704.8 1187.9L705.8 1189.9L706.8 1187.7L707.8 1188.2L708.8 1187.4L709.8 1189.1L710.8 1186.9L711.8 1183.6L712.8 1182.3L713.8 1195.7L714.8 1198.5L715.8 1192.1L716.8 1198.7L717.8 1191.3L718.8 1193.1L719.8 1200.9L720.8 1210.8L721.8 1201.5L722.8 1204.4L723.8 1217.4L724.8 1203.7L725.8 1214.4L726.8 1212.7L727.8 1208.6L728.8 1209.3L729.8 1219.3L730.8 1201.4L731.8 1204.4L732.8 1206.5L733.8 1206.2L734.8 1205.0L735.8 1219.9L736.8 1215.5L737.8 1208.3L738.8 1214.8L739.8 1221.6L740.8 1223.3L741.8 1213.0L742.8 1217.1L743.8 1216.6L744.8 1215.2L745.8 1213.2L746.8 1201.2L747.8 1215.7L748.8 1206.4L749.8 1211.5L750.8 1219.6L751.8 1209.3L752.8 1207.8L753.8 1220.6L754.8 1219.2L755.8 1221.3L756.8 1221.5L757.8 1234.3L758.8 1225.3L759.8 1221.5L760.8 1226.4L761.8 1223.8L762.8 1230.2L763.8 1228.2L764.8 1225.9L765.8 1233.9L766.8 1228.9L767.8 1235.6L768.8 1238.6L769.8 1231.9L770.8 1231.2L771.8 1235.6L772.8 1239.2L773.8 1235.5L774.8 1236.5L775.8 1236.2L776.8 1238.1L777.8 1239.9L778.8 1234.2L779.8 1235.9L780.8 1240.3L781.8 1239.1L782.8 1244.7L783.8 1248.5L784.8 1248.0L785.8 1247.4L786.8 1248.6L787.8 1260.4L788.8 1255.2L789.8 1244.9L790.8 1245.0L791.8 1255.9L792.8 1253.0L793.8 1245.6L794.8 1249.0L795.8 1239.0L796.8 1248.5L797.8 1254.5L798.8 1245.6L799.8 1253.2L800.8 1263.0L801.8 1267.3L802.8 1262.3L803.8 1268.7L804.8 1277.0L805.8 1270.4L806.8 1268.6L807.8 1276.7L808.8 1277.6L809.8 1287.6L810.8 1284.9L811.8 1283.0L812.8 1297.2L813.8 1281.4L814.8 1283.0L815.8 1281.2L816.8 1278.9L817.8 1273.4L818.8 1272.5L819.8 1266.8L820.8 1263.4L821.8 1272.8L822.8 1276.9L823.8 1280.9L824.8 1286.3L825.8 1286.9L826.8 1296.3L827.8 1298.0L828.8 1281.6L829.8 1292.2L830.8 1289.5L831.8 1281.6L832.8 1295.8L833.8 1291.7L834.8 1293.4L835.8 1291.9L836.8 1297.9L837.8 1296.9L838.8 1290.8L839.8 1290.9L840.8 1285.5L841.8 1284.9L842.8 1279.2L843.8 1283.4L844.8 1281.9L845.8 1288.6L846.8 1292.5L847.8 1291.9L848.8 1297.7L849.8 1306.3L850.8 1286.5L851.8 1297.9L852.8 1297.1L853.8 1299.4L854.8 1296.9L855.8 1302.7L856.8 1300.7L857.8 1298.4L858.8 1299.5L859.8 1297.4L860.8 1288.9L861.8 1303.7L862.8 1296.9L863.8 1293.4L864.8 1300.1L865.8 1298.4L866.8 1294.3L867.8 1310.7L868.8 1301.8L869.8 1311.0L870.8 1314.6L871.8 1321.9L872.8 1323.0L873.8 1320.2L874.8 1317.8L875.8 1321.2L876.8 1329.8L877.8 1334.7L878.8 1330.9L879.8 1326.8L880.8 1330.0L881.8 1319.4L882.8 1314.9L883.8 1311.2L884.8 1310.8L885.8 1306.8L886.8 1311.5L887.8 1314.4L888.8 1312.4L889.8 1301.1L890.8 1305.5L891.8 1315.3L892.8 1315.9L893.8 1325.4L894.8 1314.3L895.8 1312.5L896.8 1316.2L897.8 1315.5L898.8 1308.4L899.8 1310.4L900.8 1301.9L901.8 1305.2L902.8 1317.5L903.8 1308.1L904.8 1321.1L905.8 1322.5L906.8 1325.4L907.8 1328.6L908.8 1329.0L909.8 1317.9L910.8 1324.0L911.8 1326.8L912.8 1334.6L913.8 1326.4L914.8 1329.3L915.8 1331.9L916.8 1338.6L917.8 1324.2L918.8 1322.6L919.8 1329.5L920.8 1315.1L921.8 1324.2L922.8 1318.7L923.8 1311.6L924.8 1318.2L925.8 1317.4L926.8 1324.5L927.8 1327.1L928.8 1334.0L929.8 1329.0L930.8 1331.3L931.8 1330.1L932.8 1334.4L933.8 1340.0L934.8 1323.6L935.8 1332.3L936.8 1323.9L937.8 1323.6L938.8 1321.8L939.8 1321.1L940.8 1315.4L941.8 1310.8L942.8 1313.6L943.8 1311.8L944.8 1310.5L945.8 1311.9L946.8 1314.5L947.8 1310.8L948.8 1310.5L949.8 1303.6L950.8 1308.4L951.8 1303.6L952.8 1318.6L953.8 1314.5L954.8 1327.9L955.8 1339.0L956.8 1326.2L957.8 1332.7L958.8 1327.2L959.8 1321.7L960.8 1319.1L961.8 1324.2L962.8 1326.7L963.8 1320.7L964.8 1311.9L965.8 1314.6L966.8 1318.7L967.8 1326.4L968.8 1322.1L969.8 1322.8L970.8 1327.2L971.8 1321.4L972.8 1323.9L973.8 1325.8L974.8 1320.9L975.8 1333.3L976.8 1335.4L977.8 1340.3L978.8 1324.9L979.8 1320.9L980.8 1323.1L981.8 1314.7L982.8 1313.8L983.8 1299.5L984.8 1305.5L985.8 1302.7L986.8 1308.4L987.8 1306.0L988.8 1311.8L989.8 1315.5L990.8 1314.8L991.8 1304.9L992.8 1318.4L993.8 1319.9L994.8 1318.5L995.8 1324.5L996.8 1333.9L997.8 1341.7L998.8 1342.4L999.8 1334.8L1000.8 1339.0L1001.8 1334.2L1002.8 1340.1L1003.8 1319.0L1004.8 1331.9L1005.8 1327.8L1006.8 1320.9L1007.8 1326.5L1008.8 1318.9L1009.8 1322.4L1010.8 1314.2L1011.8 1317.3L1012.8 1311.9L1013.8 1308.9L1014.8 1314.2L1015.8 1312.0L1016.8 1318.6L1017.8 1324.4L1018.8 1320.6L1019.8 1324.3L1020.8 1327.5L1021.8 1321.8L1022.8 1329.7L1023.8 1326.3L1024.8 1323.8L1025.8 1316.8L1026.8 1310.6L1027.8 1316.2L1028.8 1316.5L1029.8 1318.8L1030.8 1315.9L1031.8 1315.3L1032.8 1308.4L1033.8 1309.9L1034.8 1301.7L1035.8 1304.6L1036.8 1307.7L1037.8 1317.3L1038.8 1308.1L1039.8 1303.0L1040.8 1316.7L1041.8 1308.7L1042.8 1313.7L1043.8 1312.4L1044.8 1308.0L1045.8 1316.4L1046.8 1311.4L1047.8 1304.3L1048.8 1305.7L1049.8 1304.8L1050.8 1311.5L1051.8 1309.0L1052.8 1309.3L1053.8 1311.8L1054.8 1314.7L1055.8 1320.0L1056.8 1316.2L1057.8 1317.9L1058.8 1318.3L1059.8 1324.8L1060.8 1316.2L1061.8 1296.9L1062.8 1306.0L1063.8 1304.5L1064.8 1308.4L1065.8 1318.5L1066.8 1319.4L1067.8 1310.2L1068.8 1322.6L1069.8 1319.8L1070.8 1319.2L1071.8 1321.6L1072.8 1308.6L1073.8 1316.5L1074.8 1302.2L1075.8 1307.9L1076.8 1307.5L1077.8 1314.1L1078.8 1298.8L1079.8 1292.4L1080.8 1302.1L1081.8 1295.2L1082.8 1304.4L1083.8 1293.4L1084.8 1291.8L1085.8 1300.5L1086.8 1294.5L1087.8 1297.8L1088.8 1286.1L1089.8 1299.3L1090.8 1289.0L1091.8 1295.2L1092.8 1286.7L1093.8 1284.1L1094.8 1289.7L1095.8 1291.5L1096.8 1297.6L1097.8 1291.9L1098.8 1293.3L1099.8 1292.8L1100.8 1303.7L1101.8 1285.8L1102.8 1294.9L1103.8 1288.4L1104.8 1290.0L1105.8 1286.2L1106.8 1293.7L1107.8 1282.6L1108.8 1282.1L1109.8 1284.2L1110.8 1276.8L1111.8 1282.1L1112.8 1279.9L1113.8 1269.2L1114.8 1273.6L1115.8 1264.6L1116.8 1265.0L1117.8 1262.7L1118.8 1269.5L1119.8 1261.4L1120.8 1257.6L1121.8 1257.9L1122.8 1267.7L1123.8 1255.1L1124.8 1260.9L1125.8 1261.6L1126.8 1252.6L1127.8 1261.8L1128.8 1268.3L1129.8 1264.5L1130.8 1259.1L1131.8 1265.9L1132.8 1264.9L1133.8 1271.3L1134.8 1258.6L1135.8 1259.8L1136.8 1261.5L1137.8 1260.3L1138.8 1261.0L1139.8 1259.7L1140.8 1256.7L1141.8 1252.2L1142.8 1256.5L1143.8 1252.3L1144.8 1253.5L1145.8 1255.4L1146.8 1259.7L1147.8 1260.2L1148.8 1249.6L1149.8 1253.5L1150.8 1253.6L1151.8 1247.7L1152.8 1238.4L1153.8 1234.0L1154.8 1245.1L1155.8 1243.6L1156.8 1238.6L1157.8 1231.5L1158.8 1241.9L1159.8 1239.9L1160.8 1233.4L1161.8 1231.7L1162.8 1223.1L1163.8 1234.5L1164.8 1224.5L1165.8 1235.5L1166.8 1236.3L1167.8 1234.1L1168.8 1241.4L1169.8 1233.4L1170.8 1238.2L1171.8 1238.9L1172.8 1235.1L1173.8 1230.7L1174.8 1236.7L1175.8 1231.7L1176.8 1227.6L1177.8 1226.3L1178.8 1226.3L1179.8 1234.5L1180.8 1223.4L1181.8 1220.0L1182.8 1214.3L1183.8 1211.6L1184.8 1206.5L1185.8 1214.1L1186.8 1211.2L1187.8 1204.4L1188.8 1200.3L1189.8 1203.5L1190.8 1200.8L1191.8 1196.9L1192.8 1204.1L1193.8 1203.2L1194.8 1202.1L1195.8 1205.6L1196.8 1199.0L1197.8 1207.9L1198.8 1197.0L1199.8 1203.7L1200.8 1203.6L1201.8 1198.6L1202.8 1200.3L1203.8 1192.0L1204.8 1190.0L1205.8 1194.9L1206.8 1191.5L1207.8 1196.4L1208.8 1192.9L1209.8 1194.5L1210.8 1193.2L1211.8 1192.8L1212.8 1192.3L1213.8 1190.3L1214.8 1190.0L1215.8 1201.4L1216.8 1184.4L1217.8 1191.5L1218.8 1197.0L1219.8 1194.4L1220.8 1198.7L1221.8 1194.6L1222.8 1186.2L1223.8 1190.2L1224.8 1185.2L1225.8 1195.8L1226.8 1197.6L1227.8 1188.9L1228.8 1193.2L1229.8 1188.2L1230.8 1182.7L1231.8 1186.3L1232.8 1180.2L1233.8 1183.9L1234.8 1186.5L1235.8 1187.9L1236.8 1189.6L1237.8 1181.3L1238.8 1183.0L1239.8 1183.5L1240.8 1183.8L1241.8 1168.2L1242.8 1177.2L1243.8 1184.0L1244.8 1175.0L1245.8 1180.9L1246.8 1183.2L1247.8 1170.6L1248.8 1178.0L1249.8 1179.7L1250.8 1178.4L1251.8 1171.2L1252.8 1179.4L1253.8 1175.1L1254.8 1181.1L1255.8 1179.0L1256.8 1175.9L1257.8 1180.8L1258.8 1178.6L1259.8 1180.2L1260.8 1177.9L1261.8 1185.6L1262.8 1189.4L1263.8 1184.8L1264.8 1182.7L1265.8 1178.4L1266.8 1177.4L1267.8 1181.6L1268.8 1170.0L1269.8 1184.8L1270.8 1176.0L1271.8 1186.9L1272.8 1183.2L1273.8 1176.8L1274.8 1182.8L1275.8 1181.4L1276.8 1183.1L1277.8 1185.4L1278.8 1180.2L1279.8 1182.7L1280.8 1188.5L1281.8 1189.2L1282.8 1199.1L1283.8 1201.9L1284.8 1199.7L1285.8 1197.2L1286.8 1192.3L1287.8 1195.4L1288.8 1180.4L1289.8 1185.5L1290.8 1183.6L1291.8 1185.2L1292.8 1180.1L1293.8 1176.7L1294.8 1169.1L1295.8 1169.2L1296.8 1158.0L1297.8 1166.8L1298.8 1160.9L1299.8 1182.1L1300.8 1185.5L1301.8 1179.7L1302.8 1181.0L1303.8 1175.6L1304.8 1178.4L1305.8 1186.1L1306.8 1185.1L1307.8 1179.4L1308.8 1184.1L1309.8 1183.6L1310.8 1189.2L1311.8 1190.8L1312.8 1187.3L1313.8 1189.4L1314.8 1189.5L1315.8 1180.7L1316.8 1191.5L1317.8 1191.0L1318.8 1195.3L1319.8 1184.2L1320.8 1196.3L1321.8 1190.4L1322.8 1194.9L1323.8 1199.6L1324.8 1187.9L1325.8 1189.0L1326.8 1199.8L1327.8 1190.6L1328.8 1191.8L1329.8 1198.3L1330.8 1192.9L1331.8 1195.5L1332.8 1191.6L1333.8 1188.3L1334.8 1191.0L1335.8 1194.6L1336.8 1182.5L1337.8 1187.8L1338.8 1184.4L1339.8 1180.5L1340.8 1183.3L1341.8 1178.3L1342.8 1181.0L1343.8 1186.3L1344.8 1186.1L1345.8 1193.4L1346.8 1182.6L1347.8 1184.4L1348.8 1180.1L1349.8 1179.6L1350.8 1182.9L1351.8 1169.5L1352.8 1178.6L1353.8 1175.9L1354.8 1180.8L1355.8 1190.5L1356.8 1188.5L1357.8 1196.5L1358.8 1197.8L1359.8 1200.2L1360.8 1198.7L1361.8 1190.1L1362.8 1192.0L1363.8 1193.6L1364.8 1191.3L1365.8 1181.2L1366.8 1189.9L1367.8 1185.5L1368.8 1175.3L1369.8 1174.7L1370.8 1180.0L1371.8 1168.0L1372.8 1170.8L1373.8 1172.2L1374.8 1170.1L1375.8 1169.7L1376.8 1173.2L1377.8 1169.3L1378.8 1172.2L1379.8 1185.1L1380.8 1171.1L1381.8 1176.9L1382.8 1180.9L1383.8 1179.0L1384.8 1188.9L1385.8 1185.2L1386.8 1189.8L1387.8 1172.9L1388.8 1187.1L1389.8 1183.9L1390.8 1172.4L1391.8 1178.7L1392.8 1171.0L1393.8 1171.0L1394.8 1172.0L1395.8 1164.0L1396.8 1158.8L1397.8 1163.0L1398.8 1157.1L1399.8 1159.0L1400.8 1158.9L1401.8 1158.9L1402.8 1166.1L1403.8 1161.3L1404.8 1150.1L1405.8 1155.9L1406.8 1139.9L1407.8 1141.1L1408.8 1142.8L1409.8 1150.0L1410.8 1149.1L1411.8 1149.1L1412.8 1154.1L1413.8 1152.6L1414.8 1156.7L1415.8 1148.2L1416.8 1145.4L1417.8 1152.3L1418.8 1156.9L1419.8 1153.1L1420.8 1154.7L1421.8 1152.6L1422.8 1150.5L1423.8 1150.6L1424.8 1142.5L1425.8 1149.5L1426.8 1139.7L1427.8 1143.3L1428.8 1137.1L1429.8 1145.3L1430.8 1135.7L1431.8 1148.6L1432.8 1135.8L1433.8 1142.6L1434.8 1140.4L1435.8 1137.6L1436.8 1148.1L1437.8 1141.6L1438.8 1151.1L1439.8 1140.9L1440.8 1142.9L1441.8 1138.5L1442.8 1151.0L1443.8 1153.6L1444.8 1151.5L1445.8 1151.8L1446.8 1150.5L1447.8 1167.2L1448.8 1162.0L1449.8 1152.4L1450.8 1161.4L1451.8 1153.1L1452.8 1174.0L1453.8 1177.8L1454.8 1178.5L1455.8 1174.7L1456.8 1175.3L1457.8 1174.6L1458.8 1186.3L1459.8 1182.9L1460.8 1184.0L1461.8 1182.3L1462.8 1183.3L1463.8 1188.3L1464.8 1191.3L1465.8 1183.9L1466.8 1182.8L1467.8 1179.3L1468.8 1182.4L1469.8 1186.8L1470.8 1199.2L1471.8 1200.0L1472.8 1206.9L1473.8 1205.9L1474.8 1202.7L1475.8 1199.4L1476.8 1203.8L1477.8 1199.5L1478.8 1215.5L1479.8 1208.2L1480.8 1205.8L1481.8 1229.6L1482.8 1230.9L1483.8 1236.3L1484.8 1234.3L1485.8 1237.8L1486.8 1235.8L1487.8 1240.9L1488.8 1246.3L1489.8 1235.4L1490.8 1232.2L1491.8 1249.6L1492.8 1245.5L1493.8 1250.1L1494.8 1246.3L1495.8 1256.0L1496.8 1258.6L1497.8 1246.4L1498.8 1256.2L1499.8 1251.8L1500.8 1248.6L1501.8 1255.9L1502.8 1262.6L1503.8 1256.8L1504.8 1260.2L1505.8 1274.7L1506.8 1272.2L1507.8 1276.7L1508.8 1270.2L1509.8 1272.9L1510.8 1276.9L1511.8 1277.6L1512.8 1277.9L1513.8 1285.0L1514.8 1279.0L1515.8 1271.7L1516.8 1275.2L1517.8 1279.4L1518.8 1285.9L1519.8 1279.1L1520.8 1284.2L1521.8 1289.6L1522.8 1290.2L1523.8 1293.5L1524.8 1299.9L1525.8 1309.2L1526.8 1310.6L1527.8 1307.1L1528.8 1309.2L1529.8 1300.5L1530.8 1309.9L1531.8 1307.7L1532.8 1304.7L1533.8 1294.9L1534.8 1310.6L1535.8 1287.0L1536.8 1295.7L1537.8 1299.7L1538.8 1310.7L1539.8 1304.4L1540.8 1315.9L1541.8 1317.8L1542.8 1318.5L1543.8 1321.5L1544.8 1321.8L1545.8 1314.9L1546.8 1309.5L1547.8 1298.2L1548.8 1313.0L1549.8 1302.6L1550.8 1295.8L1551.8 1306.1L1552.8 1313.2L1553.8 1307.2L1554.8 1303.7L1555.8 1320.5L1556.8 1314.3L1557.8 1314.2L1558.8 1318.5L1559.8 1305.3L1560.8 1316.3L1561.8 1317.4L1562.8 1330.0L1563.8 1318.6L1564.8 1320.1L1565.8 1317.8L1566.8 1321.9L1567.8 1326.0L1568.8 1329.1L1569.8 1328.0L1570.8 1339.1L1571.8 1333.2L1572.8 1334.9L1573.8 1339.2L1574.8 1336.8L1575.8 1332.6L1576.8 1328.9L1577.8 1335.1L1578.8 1326.2L1579.8 1332.6L1580.8 1319.7L1581.8 1309.7L1582.8 1316.6L1583.8 1317.9L1584.8 1308.7L1585.8 1307.0L1586.8 1304.9L1587.8 1315.7L1588.8 1312.9L1589.8 1315.0L1590.8 1316.0L1591.8 1315.0L1592.8 1330.4L1593.8 1327.4L1594.8 1316.0L1595.8 1321.3L1596.8 1318.2L1597.8 1313.2L1598.8 1311.7L1599.8 1314.8L1600.8 1304.0L1601.8 1305.3L1602.8 1306.8L1603.8 1306.9L1604.8 1305.7L1605.8 1307.4L1606.8 1308.6L1607.8 1301.8L1608.8 1306.1L1609.8 1303.3L1610.8 1314.8L1611.8 1303.7L1612.8 1311.3L1613.8 1317.9L1614.8 1315.6L1615.8 1317.6L1616.8 1318.9L1617.8 1323.4L1618.8 1314.9L1619.8 1318.0L1620.8 1316.0L1621.8 1308.0L1622.8 1314.1L1623.8 1308.9L1624.8 1310.6L1625.8 1311.2L1626.8 1307.1L1627.8 1298.3L1628.8 1303.3L1629.8 1296.9L1630.8 1303.5L1631.8 1317.4L1632.8 1312.7L1633.8 1322.6L1634.8 1317.5L1635.8 1321.2L1636.8 1318.9L1637.8 1331.1L1638.8 1328.7L1639.8 1335.3L1640.8 1335.1L1641.8 1331.1L1642.8 1325.8L1643.8 1319.7L1644.8 1315.5L1645.8 1308.0L1646.8 1297.0L1647.8 1304.6L1648.8 1307.4L1649.8 1298.5L1650.8 1305.3L1651.8 1300.4L1652.8 1297.3L1653.8 1300.7L1654.8 1312.1L1655.8 1313.8L1656.8 1315.0L1657.8 1322.6L1658.8 1316.5L1659.8 1324.1L1660.8 1321.7L1661.8 1325.0L1662.8 1331.0L1663.8 1326.2L1664.8 1334.4L1665.8 1334.3L1666.8 1322.3L1667.8 1333.8L1668.8 1315.1L1669.8 1317.8L1670.8 1319.1L1671.8 1302.8L1672.8 1315.4L1673.8 1315.8L1674.8 1311.5L1675.8 1314.7L1676.8 1315.9L1677.8 1315.4L1678.8 1322.6L1679.8 1317.5L1680.8 1320.4L1681.8 1323.7L1682.8 1327.4L1683.8 1329.9L1684.8 1319.6L1685.8 1318.5L1686.8 1327.9L1687.8 1323.6L1688.8 1314.2L1689.8 1315.8L1690.8 1312.5L1691.8 1306.6L1692.8 1309.5L1693.8 1297.1L1694.8 1301.8L1695.8 1310.4L1696.8 1304.5L1697.8 1296.2L1698.8 1302.1L1699.8 1306.4L1700.8 1310.4L1701.8 1303.7L1702.8 1305.9L1703.8 1295.4L1704.8 1299.1L1705.8 1305.6L1706.8 1300.2L1707.8 1309.3L1708.8 1306.0L1709.8 1326.3L1710.8 1323.9L1711.8 1331.2L1712.8 1318.0L1713.8 1315.1L1714.8 1325.7L1715.8 1312.1L1716.8 1307.4L1717.8 1308.4L1718.8 1304.9L1719.8 1293.0L1720.8 1302.1L1721.8 1311.5L1722.8 1315.9L1723.8 1322.1L1724.8 1323.2L1725.8 1324.2L1726.8 1324.0L1727.8 1317.4L1728.8 1314.2L1729.8 1313.0L1730.8 1313.1L1731.8 1309.9L1732.8 1305.9L1733.8 1305.6L1734.8 1305.3L1735.8 1305.8L1736.8 1304.9L1737.8 1296.2L1738.8 1305.3L1739.8 1292.4L1740.8 1301.0L1741.8 1294.1L1742.8 1298.8L1743.8 1299.8L1744.8 1287.7L1745.8 1304.1L1746.8 1307.7L1747.8 1309.4L1748.8 1313.4L1749.8 1306.1L1750.8 1305.7L1751.8 1297.2L1752.8 1302.3L1753.8 1298.2L1754.8 1295.7L1755.8 1286.1L1756.8 1298.8L1757.8 1302.0L1758.8 1295.1L1759.8 1296.2L1760.8 1298.8L1761.8 1306.3L1762.8 1310.4L1763.8 1304.1L1764.8 1297.0L1765.8 1307.1L1766.8 1303.6L1767.8 1303.3L1768.8 1303.6L1769.8 1295.0L1770.8 1299.0L1771.8 1297.3L1772.8 1301.3L1773.8 1306.1L1774.8 1301.6L1775.8 1298.7L1776.8 1309.2L1777.8 1307.7L1778.8 1304.6L1779.8 1298.3L1780.8 1303.5L1781.8 1309.1L1782.8 1311.9L1783.8 1305.2L1784.8 1307.4L1785.8 1300.3L1786.8 1299.1L1787.8 1301.3L1788.8 1295.5L1789.8 1295.1L1790.8 1296.3L1791.8 1295.3L1792.8 1285.3L1793.8 1284.7L1794.8 1279.7L1795.8 1282.7L1796.8 1292.9L1797.8 1292.1" stroke="#000" stroke-width="10"/>
</g>
<g stroke="#000" stroke-width="8.5" stroke-linecap="round" stroke-dasharray="0.5 18.4" fill="none">
<line x1="272.3" y1="540.05" x2="272.3" y2="1378"/>
<line x1="411.7" y1="540.05" x2="411.7" y2="1378"/>
<line x1="575.3" y1="518.45" x2="575.3" y2="1392"/>
</g>
<g fill="#000">
<rect x="117.5" y="16.5" width="1685.5" height="5.5"/>
<rect x="117.5" y="16.5" width="8.2" height="1377.5"/>
<rect x="1797.6" y="16.5" width="5.4" height="1377.5"/>
<rect x="117.5" y="1388.5" width="1685.5" height="5.5"/>
<rect x="125.7" y="1386.5" width="1671.9" height="2" fill="#999"/>
<rect x="120.6" y="1393" width="5" height="14.5"/>
<rect x="208.8" y="1393" width="5" height="27.0"/>
<rect x="297.0" y="1393" width="5" height="14.5"/>
<rect x="385.2" y="1393" width="5" height="27.0"/>
<rect x="473.4" y="1393" width="5" height="14.5"/>
<rect x="561.6" y="1393" width="5" height="27.0"/>
<rect x="649.8" y="1393" width="5" height="14.5"/>
<rect x="738.0" y="1393" width="5" height="27.0"/>
<rect x="826.2" y="1393" width="5" height="14.5"/>
<rect x="914.4" y="1393" width="5" height="27.0"/>
<rect x="1002.6" y="1393" width="5" height="14.5"/>
<rect x="1090.8" y="1393" width="5" height="27.0"/>
<rect x="1179.0" y="1393" width="5" height="14.5"/>
<rect x="1267.2" y="1393" width="5" height="27.0"/>
<rect x="1355.4" y="1393" width="5" height="14.5"/>
<rect x="1443.6" y="1393" width="5" height="27.0"/>
<rect x="1531.8" y="1393" width="5" height="14.5"/>
<rect x="1620.0" y="1393" width="5" height="27.0"/>
<rect x="1708.2" y="1393" width="5" height="14.5"/>
<rect x="1796.4" y="1393" width="5" height="27.0"/>
</g>
<g transform="translate(164.22,1481.10) scale(0.9912,1.0750)"><text font-family="Liberation Sans, Arial, sans-serif" font-weight="bold" font-size="57">200</text></g>
<g transform="translate(341.11,1481.10) scale(0.9912,1.0750)"><text font-family="Liberation Sans, Arial, sans-serif" font-weight="bold" font-size="57">400</text></g>
<g transform="translate(517.02,1481.10) scale(0.9912,1.0750)"><text font-family="Liberation Sans, Arial, sans-serif" font-weight="bold" font-size="57">600</text></g>
<g transform="translate(693.42,1481.10) scale(0.9912,1.0750)"><text font-family="Liberation Sans, Arial, sans-serif" font-weight="bold" font-size="57">800</text></g>
<g transform="translate(853.46,1481.10) scale(0.9912,1.0750)"><text font-family="Liberation Sans, Arial, sans-serif" font-weight="bold" font-size="57">1000</text></g>
<g transform="translate(1029.86,1481.10) scale(0.9912,1.0750)"><text font-family="Liberation Sans, Arial, sans-serif" font-weight="bold" font-size="57">1200</text></g>
<g transform="translate(1206.26,1481.10) scale(0.9912,1.0750)"><text font-family="Liberation Sans, Arial, sans-serif" font-weight="bold" font-size="57">1400</text></g>
<g transform="translate(1382.66,1481.10) scale(0.9912,1.0750)"><text font-family="Liberation Sans, Arial, sans-serif" font-weight="bold" font-size="57">1600</text></g>
<g transform="translate(1559.06,1481.10) scale(0.9912,1.0750)"><text font-family="Liberation Sans, Arial, sans-serif" font-weight="bold" font-size="57">1800</text></g>
<g transform="translate(1736.45,1481.10) scale(0.9912,1.0750)"><text font-family="Liberation Sans, Arial, sans-serif" font-weight="bold" font-size="57">2000</text></g>
<g transform="translate(648.62,1570.12) scale(1.0164,0.9788)"><text font-family="Liberation Sans, Arial, sans-serif" font-weight="bold" font-size="70">Raman Shift (cm</text></g>
<g transform="translate(1209.39,1535.70) scale(0.9030,1.0571)"><text font-family="Liberation Sans, Arial, sans-serif" font-weight="bold" font-size="41">-1</text></g>
<g transform="translate(1249.40,1569.92) scale(0.9000,0.9788)"><text font-family="Liberation Sans, Arial, sans-serif" font-weight="bold" font-size="70">)</text></g>
<g transform="translate(72.66,967.96) rotate(-90) scale(1.0114,0.9894)"><text font-family="Liberation Sans, Arial, sans-serif" font-weight="bold" font-size="70">Intensity/(a.u.)</text></g>
<rect x="1355" y="46" width="394.5" height="194.3" fill="none" stroke="#111" stroke-width="2.2"/>
<line x1="1367" y1="88" x2="1519" y2="88" stroke="#ff0000" stroke-width="9"/>
<line x1="1367" y1="188.3" x2="1519" y2="188.3" stroke="#000" stroke-width="10.5"/>
<g transform="translate(1533.19,108.85) scale(1.0069,1.0074)"><text font-family="Liberation Sans, Arial, sans-serif" font-weight="bold" font-size="65">Ti<tspan font-size="36" dy="21">3</tspan><tspan dy="-21">C</tspan><tspan font-size="36" dy="21">2</tspan><tspan dy="-21">T</tspan><tspan font-size="36" dy="21">x</tspan></text></g>
<g transform="translate(1533.19,209.85) scale(1.0097,1.0118)"><text font-family="Liberation Sans, Arial, sans-serif" font-weight="bold" font-size="65">Ti<tspan font-size="36" dy="21">3</tspan><tspan dy="-21">AlC</tspan><tspan font-size="36" dy="21">2</tspan></text></g>
<g transform="translate(246.33,498.60) scale(0.9368,1.0172)"><text font-family="Liberation Sans, Arial, sans-serif" font-size="54">ω</text></g>
<g transform="translate(288.96,504.80) scale(1.0125,1.0308)"><text font-family="Liberation Sans, Arial, sans-serif" font-size="37">1</text></g>
<g transform="translate(331.03,515.00) scale(0.9368,1.0759)"><text font-family="Liberation Sans, Arial, sans-serif" font-size="54">ω</text></g>
<g transform="translate(374.47,520.90) scale(0.9647,1.0269)"><text font-family="Liberation Sans, Arial, sans-serif" font-size="37">2</text></g>
<g transform="translate(396.69,515.00) scale(1.0027,1.0390)"><text font-family="Liberation Sans, Arial, sans-serif" font-size="60">&amp;</text></g>
<g transform="translate(440.25,515.00) scale(0.9763,1.0759)"><text font-family="Liberation Sans, Arial, sans-serif" font-size="54">ω</text></g>
<g transform="translate(483.83,520.90) scale(0.9353,1.0269)"><text font-family="Liberation Sans, Arial, sans-serif" font-size="37">3</text></g>
<g transform="translate(558.26,505.20) scale(0.9711,1.0172)"><text font-family="Liberation Sans, Arial, sans-serif" font-size="54">ω</text></g>
<g transform="translate(600.91,510.00) scale(1.0944,0.9885)"><text font-family="Liberation Sans, Arial, sans-serif" font-size="37">4</text></g>
<g transform="translate(1217.53,373.10) scale(0.9842,0.9793)"><text font-family="Liberation Sans, Arial, sans-serif" font-size="54">ω</text></g>
<g transform="translate(1260.97,381.40) scale(0.9647,1.0077)"><text font-family="Liberation Sans, Arial, sans-serif" font-size="37">5</text></g>
<g transform="translate(1397.79,359.70) scale(1.0053,1.0069)"><text font-family="Liberation Sans, Arial, sans-serif" font-size="54">ω</text></g>
<g transform="translate(1441.27,364.90) scale(0.9647,1.0077)"><text font-family="Liberation Sans, Arial, sans-serif" font-size="37">6</text></g>
<g transform="translate(159.55,187.10) scale(1.1542,1.2783)"><text font-family="DejaVu Sans, sans-serif" font-weight="bold" font-size="50">*</text></g>
<g transform="translate(211.88,576.90) scale(1.1208,1.2783)"><text font-family="DejaVu Sans, sans-serif" font-weight="bold" font-size="50">*</text></g>
</svg></body></html>
